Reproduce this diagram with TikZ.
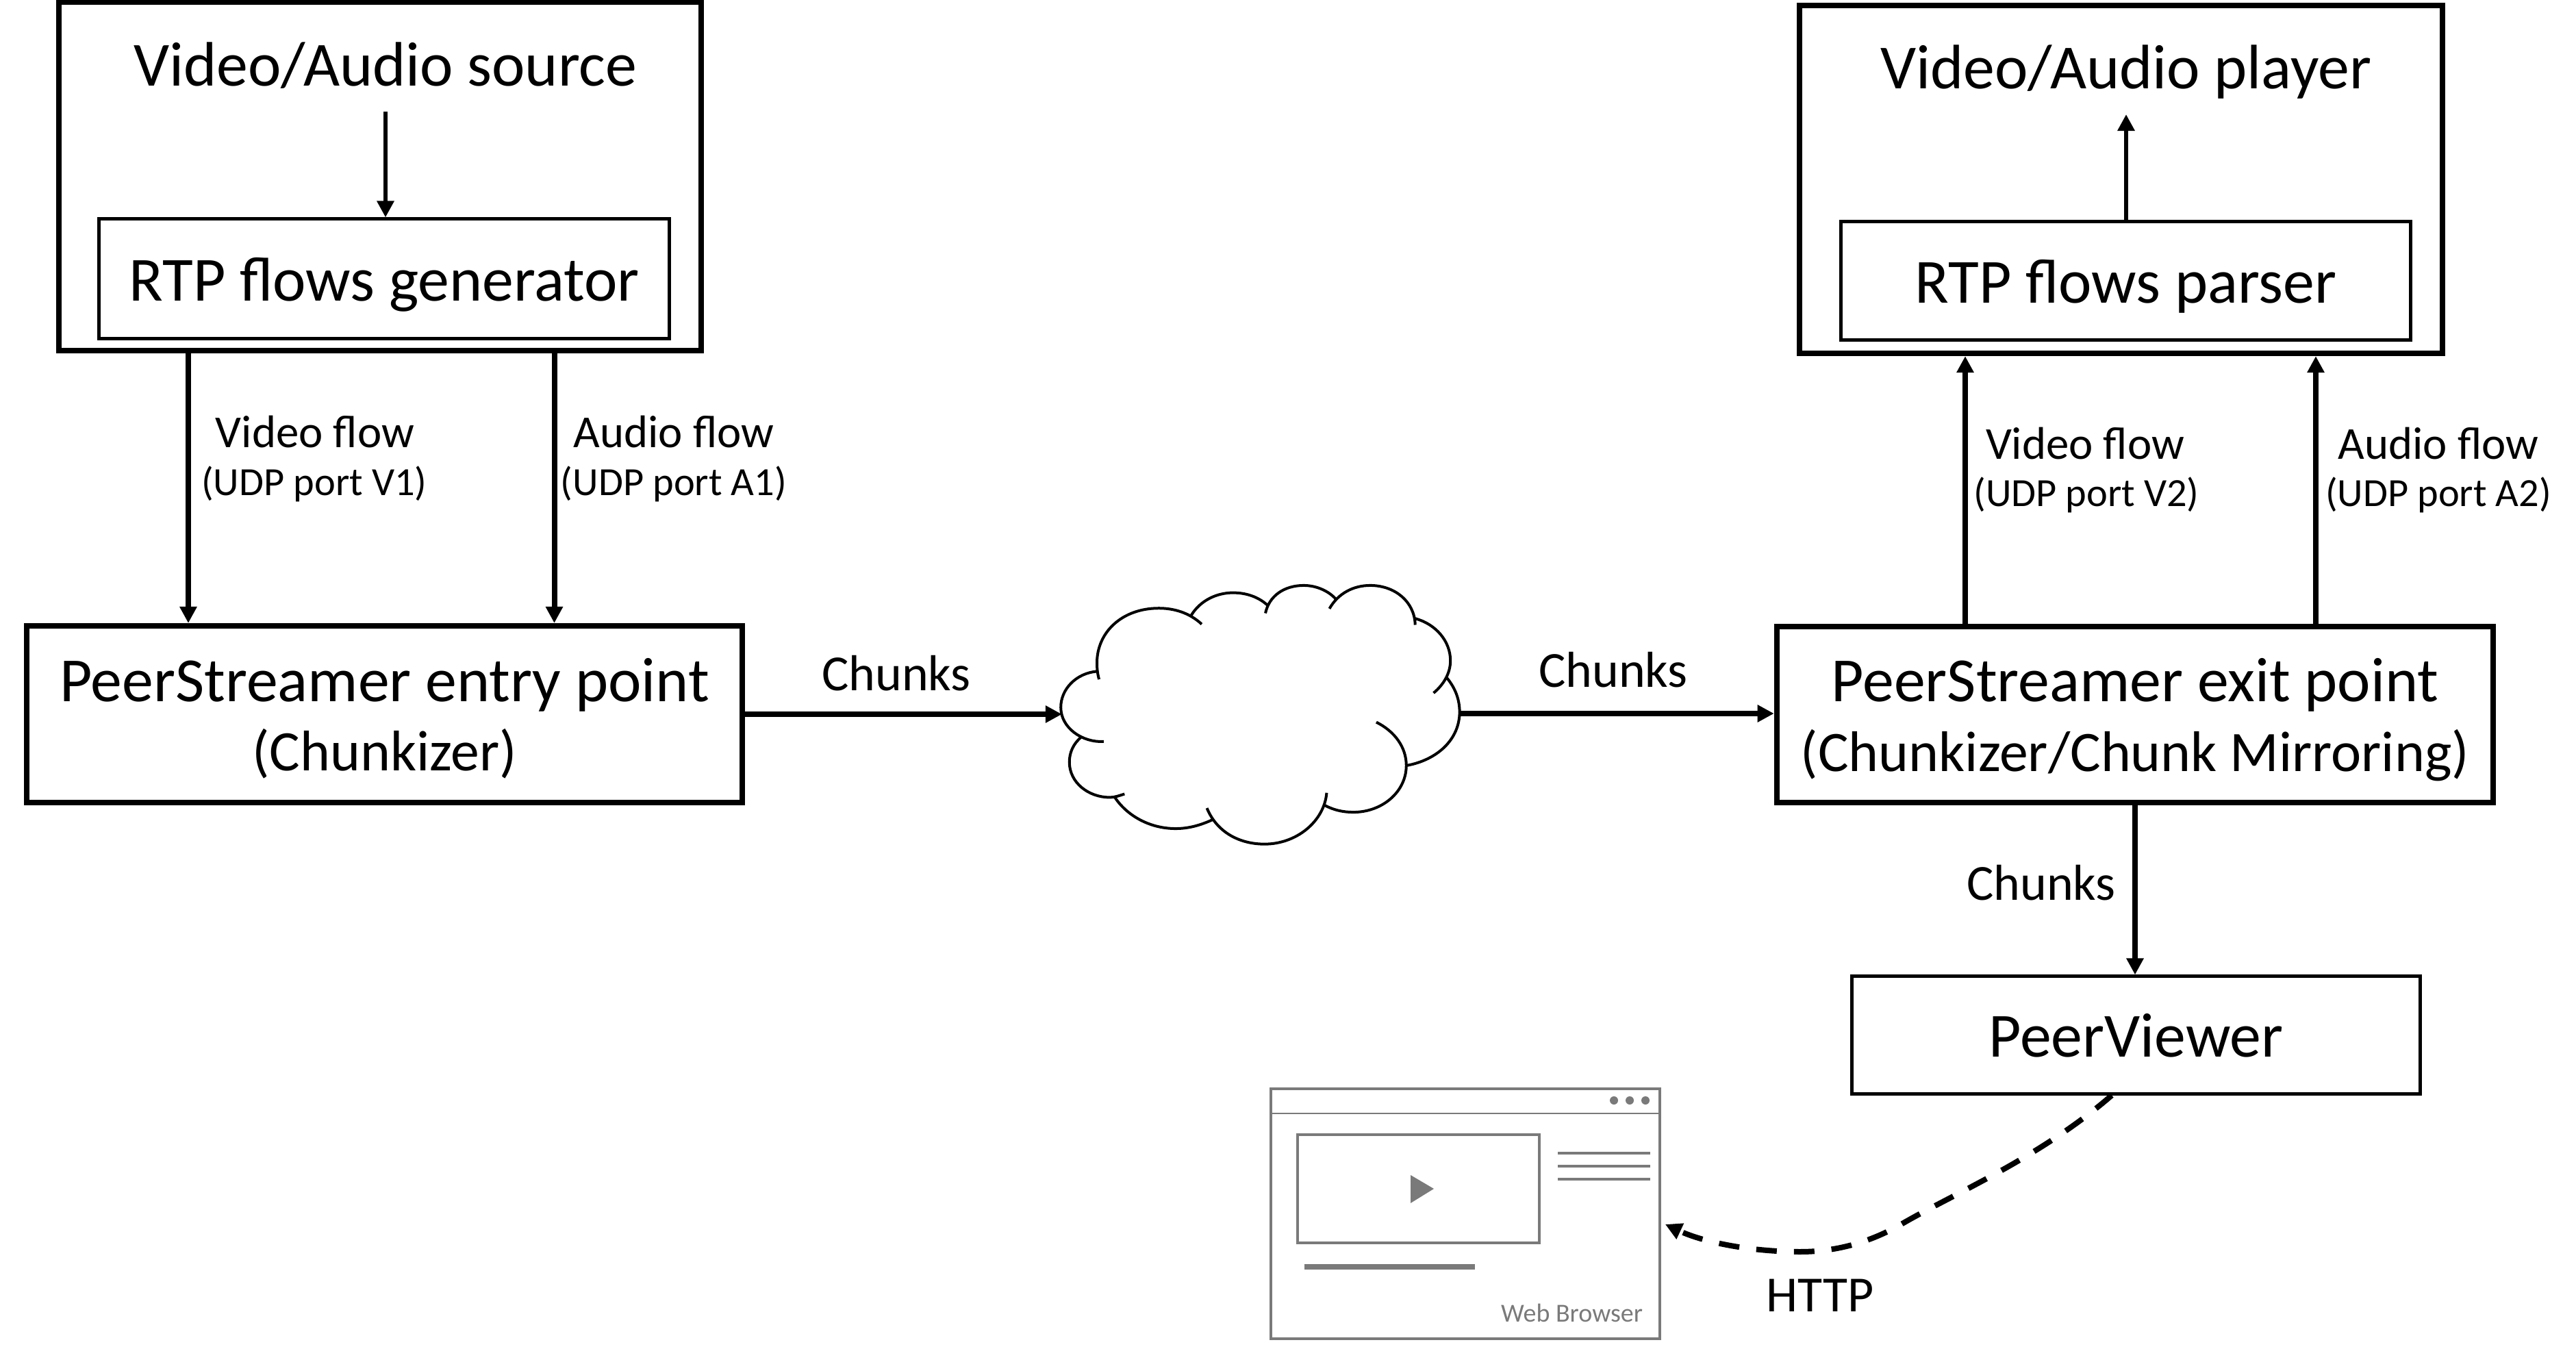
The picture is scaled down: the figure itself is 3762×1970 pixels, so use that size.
\documentclass[tikz,border=0pt]{standalone}
\usepackage{fontspec}
\setmainfont{Carlito}
\usetikzlibrary{arrows.meta}
\definecolor{ink}{HTML}{000000}
\definecolor{wire}{HTML}{7A7A7A}
\newcommand{\MainSize}{\fontsize{26.1}{28}\selectfont}
\newcommand{\SubSize}{\fontsize{23.8}{28}\selectfont}
\newcommand{\FlowSize}{\fontsize{19}{22}\selectfont}
\newcommand{\PortSize}{\fontsize{16.6}{20}\selectfont}
\newcommand{\ChunkSize}{\fontsize{21}{24}\selectfont}
\newcommand{\TopStrut}{\rule{0pt}{0.80cm}}
\newcommand{\BotStrut}{\rule[-0.16cm]{0pt}{0pt}}

\begin{document}
\begin{tikzpicture}[x=0.01cm, y=-0.01cm, ink,
    outerbox/.style={draw=ink, line width=0.08cm},
    innerbox/.style={draw=ink, line width=0.05cm, inner sep=0pt, font=\MainSize, text height=0.7cm, text depth=0.06cm},
    title/.style={anchor=base, inner sep=0pt, outer sep=0pt, font=\MainSize, text depth=0.37cm},
    flow/.style={-{Triangle[length=0.24cm, width=0.24cm]}, line width=0.08cm, draw=ink},
    tag/.style={anchor=base, inner sep=0pt, outer sep=0pt},
    shade/.style={draw=wire, line width=#1},
  ]
\useasboundingbox (0,0) rectangle (3762,1970);

% --- Source and player -----------------------------------------------------------
\node[outerbox, minimum width=9.38cm, minimum height=5.09cm] (source) at (555,257.5) {};
\node[title] (sourcetitle) at (563,126) {Video/Audio source};
\node[innerbox, minimum width=8.32cm, minimum height=1.74cm] (generator) at (561,407) {RTP flows generator};
\node[outerbox, minimum width=9.39cm, minimum height=5.08cm] (player) at (3097.5,262) {};
\node[title] (playertitle) at (3105,130) {Video/Audio player};
\node[innerbox, minimum width=8.31cm, minimum height=1.72cm] (parser) at (3104.5,410) {RTP flows parser};

% --- PeerStreamer points and the viewer ---------------------------------------------
\node[outerbox, inner sep=0pt, minimum width=10.45cm, minimum height=2.58cm, align=center, font=\MainSize] (entry) at (561.5,1043)
  {\TopStrut PeerStreamer entry point\\[0.03cm]\SubSize (Chunkizer)\BotStrut};
\node[outerbox, inner sep=0pt, minimum width=10.46cm, minimum height=2.57cm, align=center, font=\MainSize] (exit) at (3118,1043.5)
  {\TopStrut PeerStreamer exit point\\[0.03cm]\SubSize (Chunkizer/Chunk Mirroring)\BotStrut};
\node[innerbox, minimum width=8.29cm, minimum height=1.71cm] (viewer) at (3119.5,1511.5) {PeerViewer};

% --- Cloud, kept in the frame of its own outline ------------------------------------
\node[inner sep=0pt, outer sep=0pt, minimum width=5.79cm, minimum height=3.75cm] (cloud) at (1840.5,1042) {};
\begin{scope}[shift={(1500,820)}, x=0.004464cm, y=-0.003333cm]
\draw[line width=0.04cm]
  (570,275) .. controls (530,225) and (480,205) .. (430,205) .. controls (310,205) and (228,310) .. (228,445) .. controls (228,470) and (230,495) .. (235,517)
  (535,238) .. controls (565,170) and (620,137) .. (672,137) .. controls (715,137) and (755,155) .. (785,192)
  (778,227) .. controls (790,150) and (840,105) .. (903,105) .. controls (945,105) and (985,130) .. (1008,165)
  (987,207) .. controls (1015,140) and (1065,105) .. (1120,105) .. controls (1200,105) and (1265,175) .. (1267,278)
  (1267,250) .. controls (1335,275) and (1382,350) .. (1382,435) .. controls (1382,490) and (1360,540) .. (1327,577)
  (1370,510) .. controls (1395,550) and (1412,600) .. (1412,660) .. controls (1412,780) and (1340,870) .. (1240,895)
  (1140,705) .. controls (1200,745) and (1238,815) .. (1238,895) .. controls (1238,1010) and (1160,1100) .. (1065,1100) .. controls (1030,1100) and (1000,1090) .. (972,1070)
  (978,1015) .. controls (970,1140) and (880,1240) .. (775,1240) .. controls (695,1240) and (620,1190) .. (587,1082)
  (607,1132) .. controls (570,1155) and (530,1172) .. (485,1172) .. controls (400,1172) and (325,1115) .. (285,1032)
  (318,1020) .. controls (300,1028) and (285,1035) .. (270,1035) .. controls (200,1035) and (138,970) .. (138,880) .. controls (138,840) and (150,800) .. (177,770)
  (250,790) .. controls (180,795) and (110,730) .. (110,640) .. controls (110,560) and (160,490) .. (228,482);
\end{scope}

% --- Web browser ---------------------------------------------------------------------
\node[shade=0.04cm, minimum width=5.68cm, minimum height=3.65cm] (browser) at (2140,1772.5) {};
\node[shade=0.04cm, minimum width=3.53cm, minimum height=1.58cm] (pane) at (2071.5,1736) {};
\draw[shade=0.025cm] (browser.west |- 0,1626) -- (browser.east |- 0,1626);
\foreach \x in {2357,2380,2403} {
  \fill[wire] (\x,1607) circle (0.06cm);
}
\foreach \y in {1684,1703,1722} {
  \draw[shade=0.035cm] (2275,\y) -- (2410,\y);
}
\fill[wire] (2060,1716) -- (2094,1736) -- (2060,1757) -- cycle;
\fill[wire] (1905,1846) rectangle (2154,1854);
\node[tag, anchor=base east, text=wire, font=\fontsize{10.8}{13}\selectfont] (browsername) at (2399,1930) {Web Browser};

% --- Connectors ------------------------------------------------------------------------
\coordinate (v1) at (275,0);
\coordinate (a1) at (809.5,0);
\coordinate (v2) at (2870,0);
\coordinate (a2) at (3382,0);
\coordinate (httpstart) at (3084,0);
\coordinate (httptip) at (2432,1788);
\draw[flow, line width=0.065cm] (sourcetitle.south) -- (sourcetitle.south |- generator.north);
\draw[flow, line width=0.065cm] (parser.north -| playertitle.south) -- (playertitle.south);
\draw[flow] (source.south -| v1) -- (entry.north -| v1);
\draw[flow] (source.south -| a1) -- (entry.north -| a1);
\draw[flow] (exit.north -| v2) -- (player.south -| v2);
\draw[flow] (exit.north -| a2) -- (player.south -| a2);
\draw[flow] (entry.east) -- (entry.east -| cloud.west);
\draw[flow] (cloud.east) -- (cloud.east -| exit.west);
\draw[flow] (exit.south) -- (exit.south |- viewer.north);
\draw[flow, dash pattern=on 0.30cm off 0.25cm] (viewer.south -| httpstart) .. controls (2980,1690) and (2850,1745) .. (2778,1787)
  .. controls (2730,1815) and (2680,1828) .. (2629,1828) .. controls (2560,1828) and (2490,1815) .. (httptip);

% --- Labels: name, then port ------------------------------------------------------------
\foreach \k/\x/\xp/\y/\yp/\t/\p in {
  va/460/459/653/724/{Video flow}/{(UDP port V1)},
  aa/984/984/653/724/{Audio flow}/{(UDP port A1)},
  vb/3045/3047/671/740/{Video flow}/{(UDP port V2)},
  ab/3561/3561/671/740/{Audio flow}/{(UDP port A2)}}
{
  \node[tag, font=\FlowSize] (flow\k) at (\x,\y) {\t};
  \node[tag, font=\PortSize] (port\k) at (\xp,\yp) {\p};
}
\foreach \k/\x/\y/\t in {a/1309/1008/Chunks, b/2356/1003/Chunks, c/2981/1314/Chunks, d/2658/1915/HTTP} {
  \node[tag, font=\ChunkSize] (link\k) at (\x,\y) {\t};
}
\end{tikzpicture}
\end{document}
